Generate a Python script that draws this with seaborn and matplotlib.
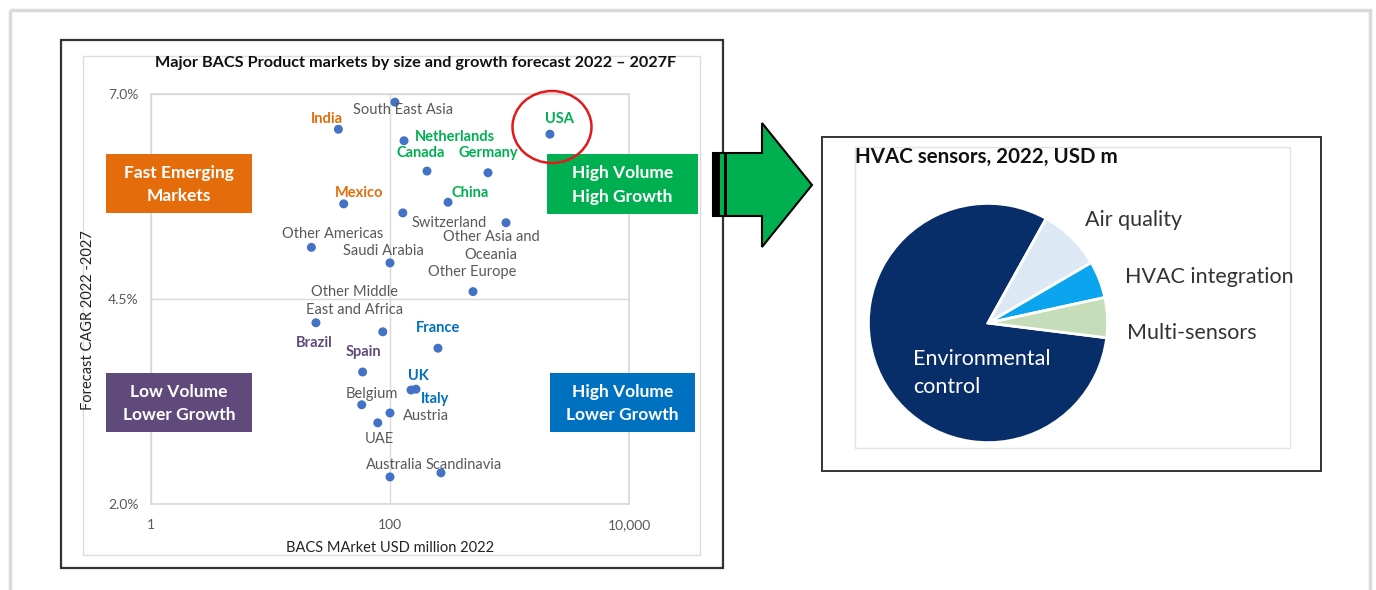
import matplotlib
matplotlib.use('Agg')  # no display in the sandbox
import matplotlib.pyplot as plt
from matplotlib.patches import Rectangle, Ellipse, Polygon
from matplotlib.ticker import NullLocator
import pandas as pd
import seaborn as sns

# --- data --------------------------------------------------------------
markets = ['South East Asia', 'India', 'Netherlands', 'USA', 'Canada', 'Germany',
           'Mexico', 'China', 'Switzerland', 'Other Asia and\nOceania',
           'Other Americas', 'Saudi Arabia', 'Other Europe',
           'Other Middle\nEast and Africa', 'Brazil', 'France', 'Spain', 'UK',
           'Italy', 'Belgium', 'Austria', 'UAE', 'Australia', 'Scandinavia']
market_size = [110, 37, 131, 2180, 204, 661, 41, 306, 128, 935, 22, 100, 495,
               87, 24, 252, 59, 150, 165, 58, 100, 79, 100, 267]
cagr = [6.90, 6.57, 6.43, 6.51, 6.06, 6.04, 5.66, 5.68, 5.55, 5.43, 5.13, 4.94,
        4.59, 4.10, 4.21, 3.90, 3.61, 3.39, 3.40, 3.21, 3.11, 2.99, 2.33, 2.38]
segment = ['other', 'emerging', 'high', 'high', 'high', 'high', 'emerging',
           'high', 'other', 'other', 'other', 'other', 'other', 'other', 'low',
           'lower', 'low', 'lower', 'lower', 'other', 'other', 'other', 'other',
           'other']

x_ticks = [1, 100, 10000]
x_tick_labels = ['1', '100', '10,000']
y_ticks = [2.0, 4.5, 7.0]
y_tick_labels = ['2.0%', '4.5%', '7.0%']

sensor_types = ['Environmental\ncontrol', 'Air quality', 'HVAC integration', 'Multi-sensors']
sensor_share = [81.2, 8.5, 5.0, 5.4]

# --- styling ------------------------------------------------------------
W, H = 1376, 590
seg_colors = {'emerging': '#E46C0A', 'high': '#00B050', 'low': '#604A7B',
              'lower': '#0070C0', 'other': '#595959'}
pie_colors = ['#082E6A', '#DCE9F5', '#0AA5EE', '#C6DDB9']
GRID = '#D9D9D9'

# label offsets from each point, image pixels (dy positive = down)
offsets = {
    'South East Asia': (8, 8, 'center'), 'India': (-12, -10, 'center'),
    'Netherlands': (11, -4, 'left'), 'USA': (9, -15, 'center'),
    'Canada': (-6, -18, 'center'), 'Germany': (0, -20, 'center'),
    'Mexico': (15, -11, 'center'), 'China': (3, -9, 'left'),
    'Switzerland': (9, 10, 'left'), 'Other Asia and\nOceania': (-15, 23, 'center'),
    'Other Americas': (21, -13, 'center'), 'Saudi Arabia': (-7, -12, 'center'),
    'Other Europe': (-1, -20, 'center'), 'Other Middle\nEast and Africa': (-28, -31, 'center'),
    'Brazil': (-2, 20, 'center'), 'France': (0, -20, 'center'),
    'Spain': (1, -20, 'center'), 'UK': (7, -14, 'center'), 'Italy': (5, 10, 'left'),
    'Belgium': (10, -11, 'center'), 'Austria': (13, 3, 'left'),
    'UAE': (2, 16, 'center'), 'Australia': (4, -12, 'center'),
    'Scandinavia': (23, -8, 'center'),
}

sns.set_theme(style='white')
plt.rcParams['font.family'] = ['Lato', 'DejaVu Sans']

fig = plt.figure(figsize=(W / 100, H / 100), dpi=100)
fig.patch.set_facecolor('white')


def px_axes(x0, y0, x1, y1):
    return [x0 / W, 1 - y1 / H, (x1 - x0) / W, (y1 - y0) / H]


# --- scatter ------------------------------------------------------------
df = pd.DataFrame({'market': markets, 'size': market_size, 'cagr': cagr,
                   'segment': segment})
ax = fig.add_axes(px_axes(151, 94, 629, 504))
sns.scatterplot(data=df, x='size', y='cagr', ax=ax, color='#4472C4', s=42,
                edgecolor='none', zorder=3)
ax.set_xscale('log')
ax.set_xlim(1, 10000)
ax.set_ylim(2.0, 7.0)
ax.set_xticks(x_ticks)
ax.set_xticklabels(x_tick_labels)
ax.xaxis.set_minor_locator(NullLocator())
ax.set_yticks(y_ticks)
ax.set_yticklabels(y_tick_labels)
ax.tick_params(length=0, labelsize=10, labelcolor='#595959')
ax.tick_params(axis='x', pad=11)
ax.tick_params(axis='y', pad=9)
ax.grid(True, color=GRID, lw=1)
for sp in ax.spines.values():
    sp.set_color(GRID)
ax.set_xlabel('')
ax.set_ylabel('')

for _, r in df.iterrows():
    dx, dy, ha = offsets[r['market']]
    col = seg_colors[r['segment']]
    ax.annotate(r['market'], (r['size'], r['cagr']), xytext=(dx, -dy),
                textcoords='offset pixels', ha=ha, va='center', fontsize=10.5,
                color=col, linespacing=1.35,
                fontweight='normal' if r['segment'] == 'other' else 'bold')

# --- pie ----------------------------------------------------------------
pax = fig.add_axes(px_axes(988 - 122, 323 - 122, 988 + 122, 323 + 122))
pax.pie(sensor_share, colors=pie_colors, startangle=-7.1, counterclock=False,
        wedgeprops=dict(edgecolor='white', linewidth=2))
pax.set_xlim(-1.02, 1.02)
pax.set_ylim(-1.02, 1.02)
pax.set_aspect('equal')
pax.axis('off')

# --- overlay in image pixels ------------------------------------------
ov = fig.add_axes([0, 0, 1, 1], zorder=10)
ov.set_xlim(0, W)
ov.set_ylim(H, 0)
ov.axis('off')
ov.patch.set_alpha(0)

# frames
ov.add_patch(Rectangle((10, 10), 1360, 600, fill=False, ec='#DADADA', lw=2.5))
ov.add_patch(Rectangle((83, 56), 617, 499, fill=False, ec='#DDDDDD', lw=1))
ov.add_patch(Rectangle((61, 40), 662, 528, fill=False, ec='#333333', lw=1.6))
inner_pie = Rectangle((855, 147), 435, 301, fill=False, ec='#E3E3E3', lw=1)
ov.add_patch(inner_pie)
ov.add_patch(Rectangle((822, 137), 499, 334, fill=False, ec='#333333', lw=1.4))

ov.text(416, 63, 'Major BACS Product markets by size and growth forecast 2022 \u2013 2027F',
        ha='center', va='center', fontsize=11.7, fontweight='bold', color='#111111')
ov.text(390, 548, 'BACS MArket USD million 2022', ha='center', va='center',
        fontsize=10.5, color='#222222')
ov.text(88, 320, 'Forecast CAGR 2022 -2027', ha='center', va='center',
        rotation=90, fontsize=10.5, color='#222222')

# quadrant boxes
boxes = [((106, 154, 146, 59), '#E46C0A', 'Fast Emerging\nMarkets'),
         ((547, 154, 151, 60), '#00B050', 'High Volume\nHigh Growth'),
         ((106, 373, 146, 59), '#604A7B', 'Low Volume\nLower Growth'),
         ((550, 373, 145, 59), '#0070C0', 'High Volume\nLower Growth')]
for (bx, by, bw, bh), col, txt in boxes:
    ov.add_patch(Rectangle((bx, by), bw, bh, fc=col, ec='none'))
    ov.text(bx + bw / 2, by + bh / 2 + 1, txt, ha='center', va='center',
            color='white', fontsize=12.5, fontweight='bold', linespacing=1.6)

# red circle around USA
ov.add_patch(Ellipse((552, 127), 79, 72, fill=False, ec='#E3191C', lw=1.8))

# arrow
ov.add_patch(Polygon([(713, 153), (762, 153), (762, 123), (812, 185),
                      (762, 247), (762, 216), (713, 216)], closed=True,
                     fc='#00B050', ec='black', lw=1.5))
ov.add_patch(Rectangle((713, 153), 7, 63, fc='black', ec='none'))
ov.add_patch(Rectangle((724, 153), 2.5, 63, fc='black', ec='none'))

# pie texts
ov.text(855, 157, 'HVAC sensors, 2022, USD m', ha='left', va='center',
        fontsize=14.8, fontweight='bold', color='#111111')
label_pos = {'Air quality': (1085, 220), 'HVAC integration': (1125, 277),
             'Multi-sensors': (1127, 333)}
for name in sensor_types:
    if name in label_pos:
        lx, ly = label_pos[name]
        t = ov.text(lx, ly, name, ha='left', va='center', fontsize=15.5,
                    color='#333333')
        t.set_clip_path(inner_pie)
    else:
        ov.text(913, 373, name, ha='left', va='center', fontsize=15.5,
                color='white', linespacing=1.45)

fig.savefig('out.png', dpi=100)
